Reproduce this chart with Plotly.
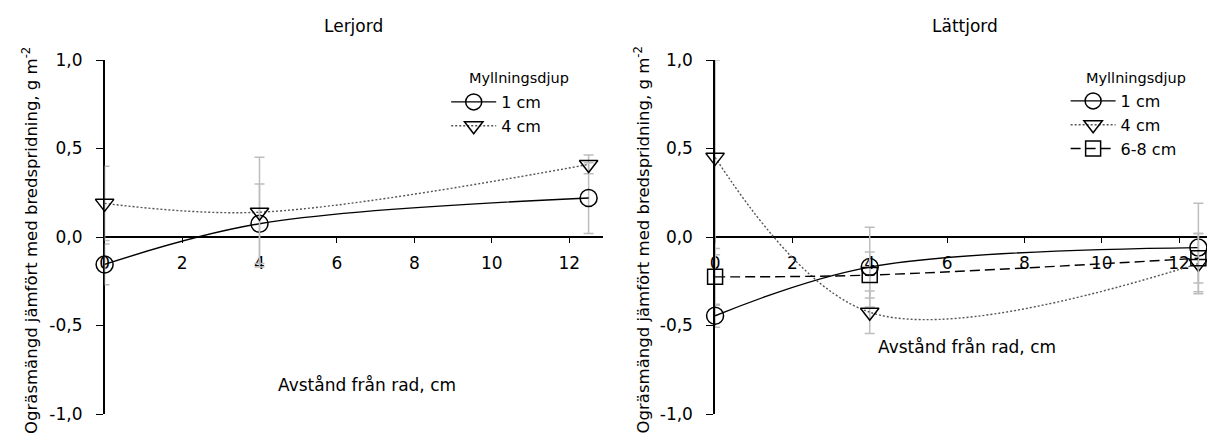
import plotly.graph_objects as go

# ---------------- data ----------------
x_dist = [0, 4, 12.5]

ler_1cm = [-0.155, 0.075, 0.22]
ler_1cm_err = [0.115, 0.225, 0.20]
ler_4cm = [0.19, 0.14, 0.41]
ler_4cm_err = [0.21, 0.31, 0.053]

latt_1cm = [-0.445, -0.17, -0.06]
latt_1cm_err = [0.065, 0.225, 0.25]
latt_4cm = [0.45, -0.425, -0.15]
latt_4cm_err = [0.55, 0.12, 0.17]
latt_68cm = [-0.225, -0.215, -0.12]
latt_68cm_err = [0.16, 0.13, 0.14]

series_names = ["1 cm", "4 cm", "6-8 cm"]
panel_titles = ["Lerjord", "Lättjord"]
x_title = "Avstånd från rad, cm"
y_title = "Ogräsmängd jämfört med bredspridning, g m<sup>-2</sup>"
legend_title = "Myllningsdjup"

y_tickvals = [-1.0, -0.5, 0.0, 0.5, 1.0]
y_ticktext = ["-1,0", "-0,5", "0,0", "0,5", "1,0"]
x_tickvals = [0, 2, 4, 6, 8, 10, 12]
x_ticktext = ["0", "2", "4", "6", "8", "10", "12"]

# ---------------- geometry / styles ----------------
FONT = "DejaVu Sans"
OFF = 8                      # page body margin of the html page
W, H = 1215 - OFF, 439 - OFF
PLOT_TOP, PLOT_BOT = 60, 414  # screen pixels of y = 1 and y = -1
MT = PLOT_TOP - OFF
MB = H - (PLOT_BOT - OFF)
PH = H - MT - MB
ERR_COL = "#bdbdbd"

styles = {
    "1 cm": dict(dash="solid", color="black", symbol="circle-open", size=17, smooth=1.0),
    "4 cm": dict(dash="2px,2px", color="#555555", symbol="triangle-down-open", size=16, smooth=1.0),
    "6-8 cm": dict(dash="10px,5px", color="black", symbol="square-open", size=15, smooth=1.0),
}


def px_x(p):
    return (p - OFF) / W


def px_y(p):
    return (H - MB - (p - OFF)) / PH


def add_series(fig, xa, ya, name, y, err, legend):
    st = styles[name]
    fig.add_trace(go.Scatter(
        x=x_dist, y=y, name=name, mode="lines+markers",
        xaxis=xa, yaxis=ya, legend=legend, cliponaxis=False,
        line=dict(color=st["color"], width=1.4, dash=st["dash"],
                  shape="spline", smoothing=st["smooth"]),
        marker=dict(symbol=st["symbol"], size=st["size"], color="black",
                    line=dict(color="black", width=1.5)),
        error_y=dict(type="data", array=err, visible=True, color=ERR_COL,
                     thickness=1.5, width=5),
    ))


fig = go.Figure()
add_series(fig, "x", "y", "1 cm", ler_1cm, ler_1cm_err, "legend")
add_series(fig, "x", "y", "4 cm", ler_4cm, ler_4cm_err, "legend")
add_series(fig, "x2", "y2", "1 cm", latt_1cm, latt_1cm_err, "legend2")
add_series(fig, "x2", "y2", "4 cm", latt_4cm, latt_4cm_err, "legend2")
add_series(fig, "x2", "y2", "6-8 cm", latt_68cm, latt_68cm_err, "legend2")

xcommon = dict(
    anchor="free", position=0.5, showgrid=False, zeroline=False,
    showline=True, linecolor="black", linewidth=1.5,
    ticks="outside", ticklen=5, tickcolor="black", tickwidth=1,
    tickvals=x_tickvals, ticktext=x_ticktext,
    tickfont=dict(family=FONT, size=17, color="black"),
    ticklabelstandoff=6, layer="below traces",
)
ycommon = dict(
    range=[-1, 1], domain=[0, 1], showgrid=False, zeroline=False,
    showline=True, linecolor="black", linewidth=1.5,
    ticks="outside", ticklen=7, tickcolor="black", tickwidth=1,
    tickvals=y_tickvals, ticktext=y_ticktext,
    tickfont=dict(family=FONT, size=17, color="black"),
    ticklabelstandoff=10, layer="below traces",
)

fig.update_layout(
    width=W, height=H,
    margin=dict(l=0, r=0, t=MT, b=MB, pad=0),
    paper_bgcolor="white", plot_bgcolor="white",
    font=dict(family=FONT, color="black"),
    xaxis=dict(domain=[px_x(100), px_x(600)], range=[0, 12.86], **xcommon),
    xaxis2=dict(domain=[px_x(713), 1.0], range=[0, 12.93], **xcommon),
    yaxis=dict(anchor="x", **ycommon),
    yaxis2=dict(anchor="x2", **ycommon),
    showlegend=True,
    legend=dict(x=px_x(443), y=px_y(85), xanchor="left", yanchor="top",
                bgcolor="rgba(0,0,0,0)", font=dict(family=FONT, size=16),
                itemwidth=45, tracegroupgap=0),
    legend2=dict(x=px_x(1065), y=px_y(84), xanchor="left", yanchor="top",
                 bgcolor="rgba(0,0,0,0)", font=dict(family=FONT, size=16),
                 itemwidth=45, tracegroupgap=0),
)

ann = []
ann.append(dict(text=panel_titles[0], x=px_x(350), y=px_y(26), xref="paper", yref="paper",
                showarrow=False, xanchor="center", yanchor="middle", font=dict(size=17)))
ann.append(dict(text=panel_titles[1], x=px_x(964), y=px_y(26), xref="paper", yref="paper",
                showarrow=False, xanchor="center", yanchor="middle", font=dict(size=17)))
ann.append(dict(text=x_title, x=px_x(363), y=px_y(385), xref="paper", yref="paper",
                showarrow=False, xanchor="center", yanchor="middle", font=dict(size=17)))
ann.append(dict(text=x_title, x=px_x(966), y=px_y(347), xref="paper", yref="paper",
                showarrow=False, xanchor="center", yanchor="middle", font=dict(size=17)))
ann.append(dict(text=legend_title, x=px_x(516), y=px_y(78), xref="paper", yref="paper",
                showarrow=False, xanchor="center", yanchor="middle", font=dict(size=14.5)))
ann.append(dict(text=legend_title, x=px_x(1136), y=px_y(78), xref="paper", yref="paper",
                showarrow=False, xanchor="center", yanchor="middle", font=dict(size=14.5)))
for xc in (25, 640):
    ann.append(dict(text=y_title, x=px_x(xc), y=px_y(240), xref="paper", yref="paper",
                    showarrow=False, xanchor="center", yanchor="middle", textangle=-90,
                    font=dict(size=16.5)))
fig.update_layout(annotations=ann)

fig.write_html("out.html")
